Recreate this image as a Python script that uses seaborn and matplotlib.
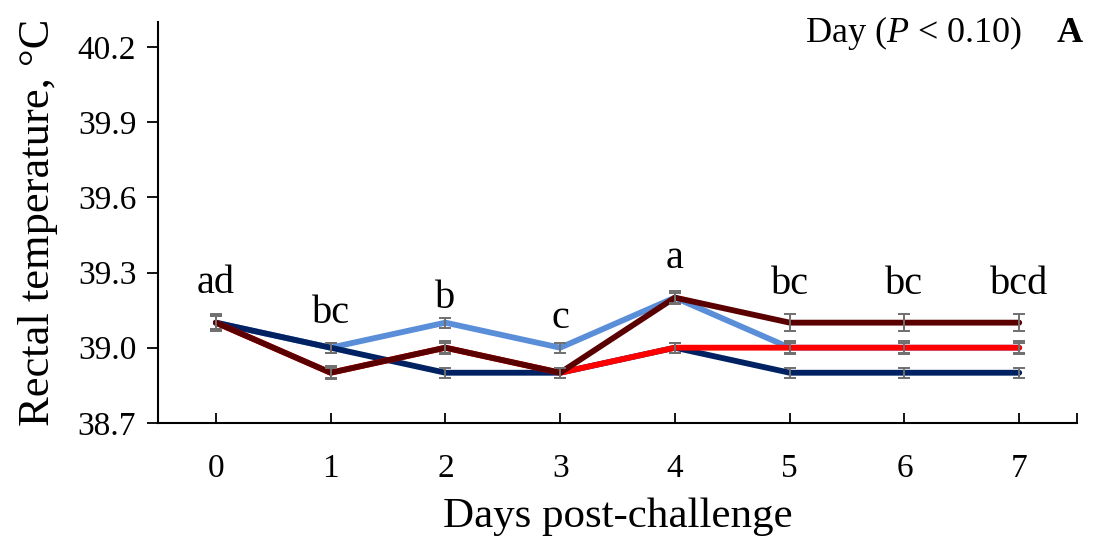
import matplotlib
matplotlib.use("Agg")
import matplotlib.pyplot as plt
import seaborn as sns
import pandas as pd
import numpy as np

days = [0, 1, 2, 3, 4, 5, 6, 7]
series_names = ["S1", "S2", "S3", "S4"]
light_blue = [39.1, 39.0, 39.1, 39.0, 39.2, 39.0, 39.0, 39.0]
navy = [39.1, 39.0, 38.9, 38.9, 39.0, 38.9, 38.9, 38.9]
red = [39.1, 38.9, 39.0, 38.9, 39.0, 39.0, 39.0, 39.0]
maroon = [39.1, 38.9, 39.0, 38.9, 39.2, 39.1, 39.1, 39.1]

err_light_blue = [0.025, 0.02, 0.02, 0.02, 0.02, 0.02, 0.02, 0.02]
err_navy = [0.03, 0.02, 0.02, 0.02, 0.02, 0.02, 0.02, 0.02]
err_red = [0.025, 0.02, 0.02, 0.02, 0.02, 0.025, 0.025, 0.025]
err_maroon = [0.035, 0.025, 0.025, 0.02, 0.025, 0.035, 0.035, 0.035]

letters = ["ad", "bc", "b", "c", "a", "bc", "bc", "bcd"]
letter_y = [39.22, 39.10, 39.16, 39.08, 39.32, 39.215, 39.215, 39.215]

yticks = [38.7, 39.0, 39.3, 39.6, 39.9, 40.2]

colors = ["#5B8ED8", "#002263", "#FF0000", "#5A0000"]
values = [light_blue, navy, red, maroon]
errors = [err_light_blue, err_navy, err_red, err_maroon]

rows = []
for name, vals in zip(series_names, values):
    for d, v in zip(days, vals):
        rows.append({"Day": d, "Temp": v, "Series": name})
df = pd.DataFrame(rows)

sns.set_style("white")
plt.rcParams["font.family"] = ["Liberation Serif", "DejaVu Serif"]
plt.rcParams["mathtext.fontset"] = "custom"
plt.rcParams["mathtext.rm"] = "Liberation Serif"
plt.rcParams["mathtext.it"] = "Liberation Serif:italic"
for k in ["text.color", "axes.labelcolor", "xtick.color", "ytick.color"]:
    plt.rcParams[k] = "black"

fig = plt.figure(figsize=(10.93, 5.40), dpi=100)
ax = fig.add_axes([0.145, 0.217, 0.840, 0.742])

sns.lineplot(data=df, x="Day", y="Temp", hue="Series", palette=colors,
             hue_order=series_names, linewidth=4.2, legend=False, ax=ax,
             errorbar=None)
for i, line in enumerate(ax.get_lines()):
    line.set_zorder(2 + i)
    line.set_linewidth(4.2)
    line.set_solid_capstyle("round")
    line.set_solid_joinstyle("miter")

for vals, errs in zip(values, errors):
    ax.errorbar(days, vals, yerr=errs, fmt="none", ecolor="#6F6F6F",
                elinewidth=1.4, capsize=4.0, capthick=1.4, zorder=10)

for d, t, y in zip(days, letters, letter_y):
    ax.text(d, y, t, ha="center", va="baseline", fontsize=29, color="black")

fig.text(0.935, 0.975, "Day ($\\mathit{P}$ < 0.10)", ha="right", va="top",
         fontsize=26)
fig.text(0.991, 0.968, "A", ha="right", va="top", fontsize=26,
         fontweight="bold")

ax.set_xlim(-0.5, 7.5)
ax.set_ylim(38.7, 40.3)
ax.set_yticks(yticks)
ax.set_yticklabels([f"{v:.1f}" for v in yticks])
ax.set_xticks(days + [7.5])
ax.set_xticklabels([str(d) for d in days] + [""])

for s in ["top", "right"]:
    ax.spines[s].set_visible(False)
for s in ["left", "bottom"]:
    ax.spines[s].set_color("black")
    ax.spines[s].set_linewidth(1.5)

ax.tick_params(axis="y", direction="out", length=8, width=1.3, labelsize=24,
               left=True, pad=8)
ax.tick_params(axis="x", direction="in", length=7, width=1.3, labelsize=24,
               bottom=True, pad=22)

ax.set_xlabel("Days post-challenge", fontsize=31, labelpad=10)
ax.set_ylabel("Rectal temperature, °C", fontsize=32, labelpad=14)

fig.savefig("out.png", dpi=100)
